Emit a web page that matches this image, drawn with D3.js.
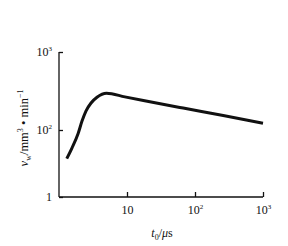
<!DOCTYPE html>
<html>
<head>
<meta charset="utf-8">
<script src="https://cdn.jsdelivr.net/npm/d3@7"></script>
<style>
  body { margin: 0; background: #fff; }
  text { font-family: 'Liberation Serif', 'DejaVu Serif', serif; fill: #111; }
</style>
</head>
<body>
<div id="graph"></div>
<script>
// Data: pulse width t0 (us) vs removal rate vw (mm^3/min)
const t0 = [1.3, 1.55, 1.9, 2.18, 2.49, 2.96, 3.62, 5.0, 9.3, 17.4, 67, 260, 1000]
const vw = [14, 29, 76, 130, 175, 222, 263, 296, 266, 239, 191, 153, 122]

// Tick labels (base, exponent)
const xTicks = [10, 100, 1000]
const xTickLabels = [['10', ''], ['10', '2'], ['10', '3']]
const yTicks = [1, 100, 1000]
const yTickLabels = [['1', ''], ['10', '2'], ['10', '3']]

const width = 288, height = 246

const svg = d3.select('#graph')
  .append('svg')
  .attr('width', width)
  .attr('height', height)

// x is log over 1..1000, y is a log axis printed unevenly in the source
const x = d3.scaleLog().domain([1, 1000]).range([59, 263])
const y = d3.scaleLog().domain([1, 100, 1000]).range([197, 130, 52])

function supLabel(sel, labels) {
  sel.each(function (d, i) {
    const t = d3.select(this).text('')
    t.append('tspan').text(labels[i][0])
    if (labels[i][1]) {
      t.append('tspan').attr('dy', -5).style('font-size', '7px').text(labels[i][1])
    }
  })
}

// X axis
const gx = svg.append('g')
  .attr('transform', 'translate(0,197)')
  .call(d3.axisBottom(x).tickValues(xTicks).tickSize(-5).tickSizeOuter(0).tickPadding(8))
gx.select('.domain').attr('stroke', '#111').attr('stroke-width', 1.3).attr('d', 'M59,0H263')
gx.selectAll('.tick line').attr('stroke', '#111').attr('stroke-width', 1.3)
gx.selectAll('.tick text')
  .style('font-size', '12px')
  .call(supLabel, xTickLabels)

// Y axis
const gy = svg.append('g')
  .attr('transform', 'translate(59,0)')
  .call(d3.axisLeft(y).tickValues(yTicks).tickSize(-4).tickSizeOuter(0).tickPadding(7))
gy.select('.domain').attr('stroke', '#111').attr('stroke-width', 1.3).attr('d', 'M0,52V197')
gy.selectAll('.tick line').attr('stroke', '#111').attr('stroke-width', 1.3)
gy.selectAll('.tick text')
  .style('font-size', '12px')
  .call(supLabel, yTickLabels)

// Axis titles
const xt = svg.append('text')
  .attr('x', 162)
  .attr('y', 237)
  .attr('text-anchor', 'middle')
  .style('font-size', '12px')
xt.append('tspan').style('font-style', 'italic').text('t')
xt.append('tspan').attr('dy', 3).style('font-size', '8px').text('0')
xt.append('tspan').attr('dy', -3).text('/')
xt.append('tspan').style('font-style', 'italic').text('μ')
xt.append('tspan').text('s')

const yt = svg.append('text')
  .attr('transform', 'translate(28,128) rotate(-90)')
  .attr('text-anchor', 'middle')
  .style('font-size', '12.5px')
yt.append('tspan').style('font-style', 'italic').text('v')
yt.append('tspan').attr('dy', 3).style('font-size', '8px').text('w')
yt.append('tspan').attr('dy', -3).text('/mm')
yt.append('tspan').attr('dy', -5).style('font-size', '8px').text('3')
yt.append('tspan').attr('dy', 5).text(' • min')
yt.append('tspan').attr('dy', -5).style('font-size', '8px').text('−1')

// Curve
const pts = t0.map((d, i) => ({ t: d, v: vw[i] }))
svg.append('path')
  .datum(pts)
  .attr('fill', 'none')
  .attr('stroke', '#111')
  .attr('stroke-width', 3)
  .attr('stroke-linejoin', 'round')
  .attr('d', d3.line()
    .x(function (d) { return x(d.t) })
    .y(function (d) { return y(d.v) })
    .curve(d3.curveMonotoneX)
  )
</script>
</body>
</html>
